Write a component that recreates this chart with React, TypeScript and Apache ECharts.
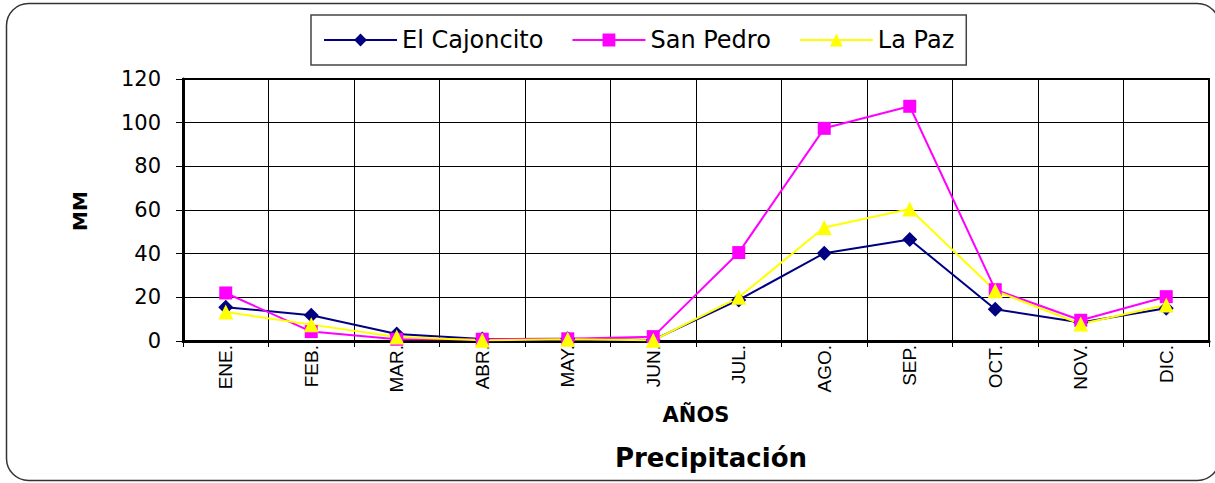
import React, { useEffect, useRef } from "react";
import * as echarts from "echarts";

const months = ["ENE.", "FEB.", "MAR.", "ABR.", "MAY.", "JUN.", "JUL.", "AGO.", "SEP.", "OCT.", "NOV.", "DIC."];
const elCajoncito = [15.5, 11.8, 3.2, 0.9, 1.0, 0.5, 18.8, 40.2, 46.5, 14.5, 8.5, 15.0];
const sanPedro = [22, 4.3, 0.8, 0.8, 1.0, 2.0, 40.5, 97.4, 107.5, 23.5, 9.5, 20.3];
const laPaz = [13.3, 7.5, 1.8, 0.3, 0.8, 0.3, 20.0, 52.0, 60.5, 23.0, 7.8, 16.5];
const yTicks = { min: 0, max: 120, interval: 20 };

const FONT = "'DejaVu Sans', Arial, sans-serif";
const ARIAL = "'Liberation Sans', Arial, sans-serif";

export default function App() {
  const ref = useRef<HTMLDivElement>(null);
  useEffect(() => {
    document.body.style.margin = "0";
    const chart = echarts.init(ref.current!, undefined, { renderer: "svg" });
    const mk = (name: string, data: number[], color: string, symbol: string, size: number) => ({
      name,
      type: "line",
      data,
      symbol,
      symbolSize: size,
      itemStyle: { color },
      lineStyle: { color, width: 2 },
      z: 3,
    });
    chart.setOption({
      animation: false,
      backgroundColor: "#ffffff",
      grid: { left: 183, top: 79, right: 6, bottom: 142, show: true, borderColor: "#000", borderWidth: 2 },
      legend: {
        left: 311,
        top: 15,
        padding: [13, 12],
        itemWidth: 73,
        itemHeight: 16,
        itemGap: 28,
        borderColor: "#444",
        borderWidth: 1.5,
        textStyle: { fontFamily: FONT, fontSize: 24, color: "#000" },
        data: ["El Cajoncito", "San Pedro", "La Paz"],
      },
      xAxis: {
        type: "category",
        data: months,
        boundaryGap: true,
        axisLine: { lineStyle: { color: "#000", width: 3 } },
        axisTick: { show: true, length: 6, lineStyle: { color: "#000", width: 1 } },
        splitLine: { show: true, lineStyle: { color: "#000", width: 1 } },
        axisLabel: { rotate: 90, fontFamily: ARIAL, fontSize: 19, color: "#000", margin: 4 },
        name: "AÑOS",
        nameLocation: "middle",
        nameGap: 63,
        nameTextStyle: { fontFamily: FONT, fontWeight: "bold", fontSize: 21, color: "#000" },
      },
      yAxis: {
        type: "value",
        ...yTicks,
        axisLine: { show: true, lineStyle: { color: "#000", width: 3 } },
        axisTick: { show: true, length: 7, lineStyle: { color: "#000", width: 1 } },
        splitLine: { show: true, lineStyle: { color: "#000", width: 1 } },
        axisLabel: { fontFamily: FONT, fontSize: 21, color: "#000", margin: 22 },
      },
      graphic: [
        {
          type: "rect",
          shape: { x: 6.5, y: 3.5, width: 1213, height: 477, r: 22 },
          style: { fill: "none", stroke: "#333", lineWidth: 1.5 },
          silent: true,
          z: -10,
        },
        {
          type: "text",
          x: 80,
          y: 211,
          rotation: Math.PI / 2,
          style: {
            text: "MM",
            fontFamily: FONT,
            fontWeight: "bold",
            fontSize: 20,
            fill: "#000",
            align: "center",
            verticalAlign: "middle",
          },
        },
        {
          type: "text",
          x: 711,
          y: 458,
          style: {
            text: "Precipitación",
            fontFamily: FONT,
            fontWeight: "bold",
            fontSize: 26,
            fill: "#000",
            align: "center",
            verticalAlign: "middle",
          },
        },
      ],
      series: [
        mk("El Cajoncito", elCajoncito, "#000080", "diamond", 15),
        mk("San Pedro", sanPedro, "#FF00FF", "rect", 13),
        mk("La Paz", laPaz, "#FFFF00", "triangle", 15),
      ],
    });
    return () => chart.dispose();
  }, []);
  return <div ref={ref} style={{ width: 1215, height: 483 }} />;
}
